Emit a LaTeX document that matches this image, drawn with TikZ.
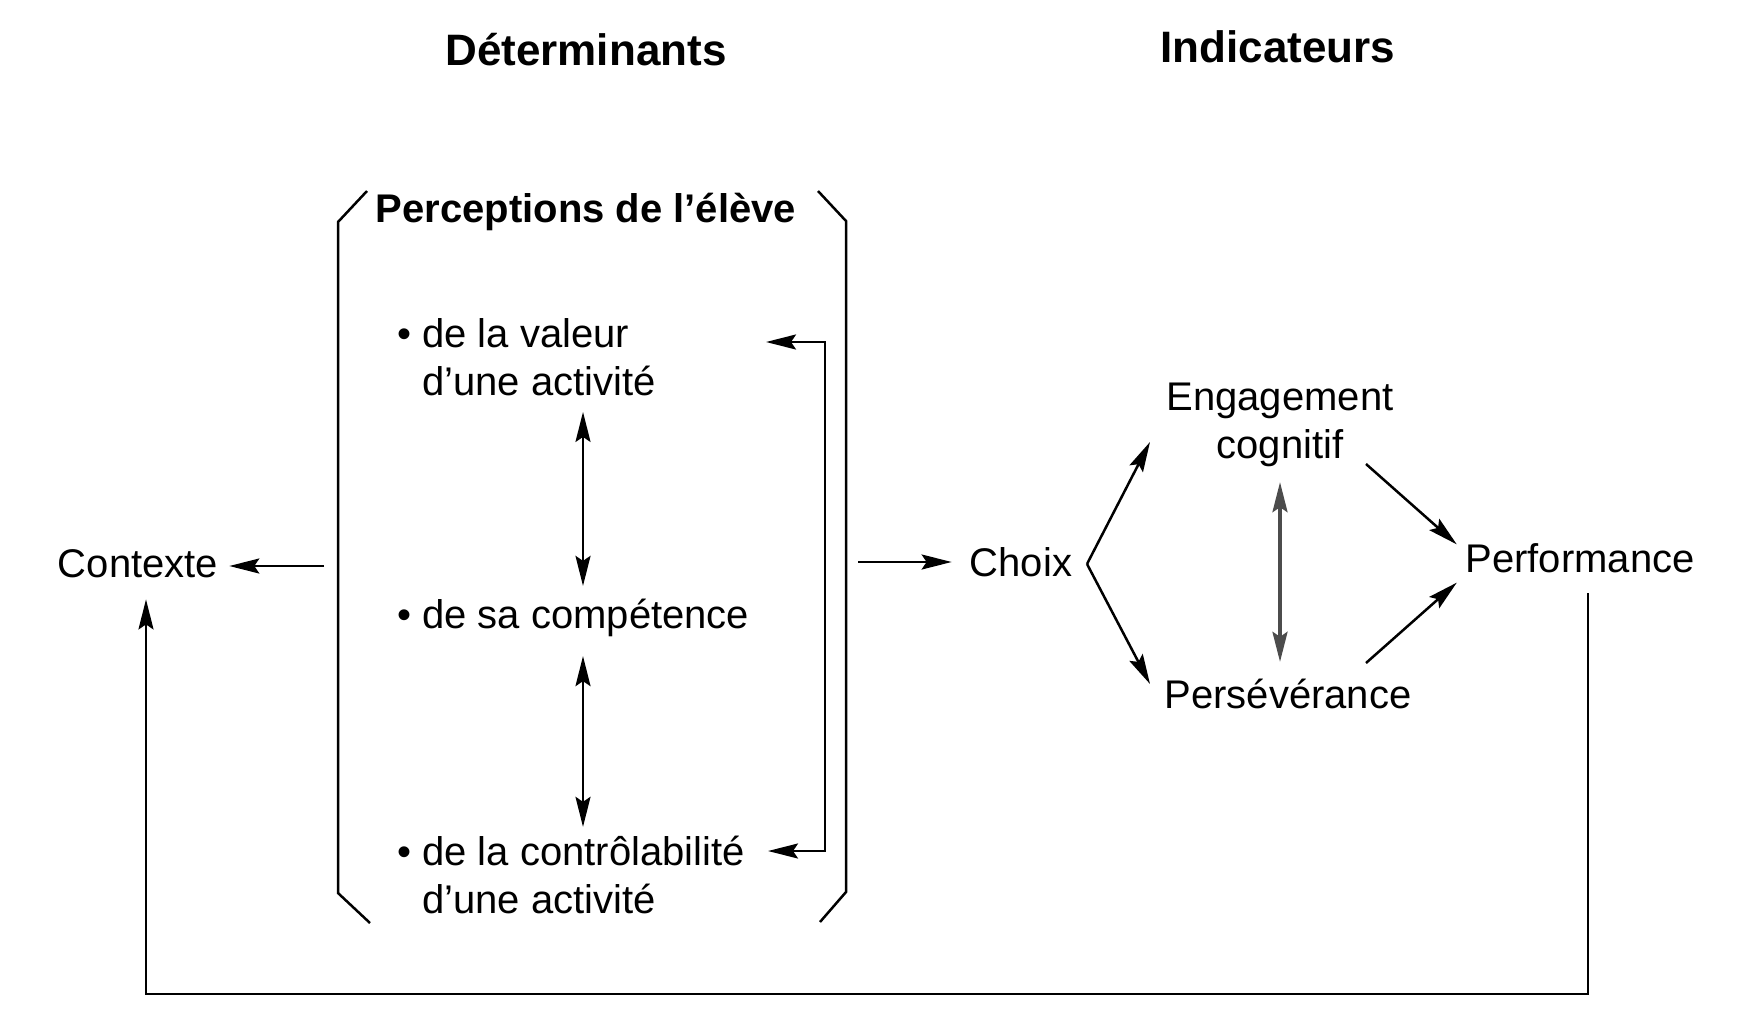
\documentclass[tikz,border=0pt]{standalone}
\usepackage{fontspec}
\setmainfont{Liberation Sans}
\usetikzlibrary{arrows.meta}

\begin{document}
\begin{tikzpicture}[x=1pt,y=-1pt,line width=2.5pt,
  fl/.style={-{Stealth[length=30pt,width=15pt,inset=5pt]}},
  dfl/.style={{Stealth[length=30pt,width=15pt,inset=5pt]}-{Stealth[length=30pt,width=15pt,inset=5pt]}},
  txt/.style={font=\fontsize{40}{48}\selectfont,inner sep=0pt,align=center},
  item/.style={txt,align=left,anchor=west},
  head/.style={font=\fontsize{44}{52}\selectfont\bfseries,inner sep=0pt}]
\useasboundingbox (0,0) rectangle (1745,1021);

% titles
\node[head] (determinants) at (586,50) {Déterminants};
\node[head] (indicateurs) at (1278,47) {Indicateurs};

% bracket of perceptions
\draw (367,191) -- (338,222) -- (338,893) -- (370,923);
\draw (818,191) -- (846,221) -- (846,892) -- (820,922);
\node[txt,font=\fontsize{40}{48}\selectfont\bfseries] (perceptions) at (586,212) {Perceptions de l’élève};

\node[item] (valeur) at (396,357) {\textbullet\ de la valeur\\\phantom{\textbullet\ }d’une activité};
\node[item] (competence) at (396,618) {\textbullet\ de sa compétence};
\node[item] (controle) at (396,875) {\textbullet\ de la contrôlabilité\\\phantom{\textbullet\ }d’une activité};

\coordinate (axis) at (583,0);
\draw[dfl,shorten <=15pt,shorten >=12pt] (valeur.south -| axis) -- (competence.north -| axis);
\draw[dfl,shorten <=18pt,shorten >=8pt] (competence.south -| axis) -- (controle.north -| axis);

% loop on the right side
\coordinate (loopa) at (766,342);
\coordinate (loopb) at (768,851);
\draw[dfl] (loopa) -- (825,342) -- (825,851) -- (loopb);

% left part
\node[txt] (contexte) at (138,564) {Contexte};
\coordinate (lout) at (324,566);
\draw[fl,shorten >=10pt] (lout) -- (contexte.east |- lout);

% indicateurs
\coordinate (rout) at (858,562);
\node[txt] (choix) at (1021,562) {Choix};
\draw[fl,shorten >=17pt] (rout) -- (choix.west |- rout);

\node[txt] (engagement) at (1280,425) {Engagement\\cognitif};
\node[txt] (perseverance) at (1288,694) {Persévérance};
\node[txt] (performance) at (1580,558) {Performance};

\coordinate (fork) at (1087,564);
\coordinate (engin) at (1150,442);
\coordinate (persin) at (1150,684);
\draw[fl] (fork) -- (engin);
\draw[fl] (fork) -- (persin);

\draw[dfl,line width=3.5pt,black!70,shorten <=14pt,shorten >=16pt] (engagement.south) -- (engagement.south |- perseverance.north);

\coordinate (engout) at (1366,464);
\coordinate (persout) at (1366,663);
\draw[fl,shorten >=10pt] (engout) -- ([yshift=7pt]performance.west);
\draw[fl,shorten >=10pt] (persout) -- ([yshift=-18pt]performance.west);

% feedback to contexte
\coordinate (perfout) at (1588,593);
\draw[fl,shorten >=20pt] (perfout) -- (1588,994) -| ([xshift=8pt]contexte.south);
\end{tikzpicture}
\end{document}
